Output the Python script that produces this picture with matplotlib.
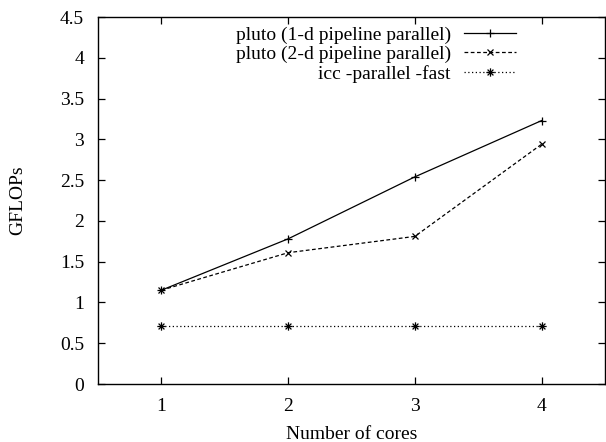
import matplotlib
matplotlib.use('Agg')
import matplotlib.pyplot as plt
from matplotlib.path import Path

cores = [1, 2, 3, 4]
pluto_1d = [1.15, 1.78, 2.54, 3.23]
pluto_2d = [1.15, 1.61, 1.81, 2.94]
icc = [0.71, 0.71, 0.71, 0.71]
yticks = [0, 0.5, 1, 1.5, 2, 2.5, 3, 3.5, 4, 4.5]
ytick_labels = ['0', '0.5', '1', '1.5', '2', '2.5', '3', '3.5', '4', '4.5']

plt.rcParams['font.family'] = ['Liberation Serif', 'DejaVu Serif']
plt.rcParams['font.size'] = 14

# gnuplot style "*" point: plus and cross drawn together
star = Path([(-1, 0), (1, 0), (0, -1), (0, 1), (-0.7, -0.7), (0.7, 0.7), (-0.7, 0.7), (0.7, -0.7)],
            [Path.MOVETO, Path.LINETO] * 4)

fig = plt.figure(figsize=(6.06, 4.42), dpi=100)
ax = fig.add_axes([0.1617, 0.1312, 0.8366, 0.8303])

ax.plot(cores, pluto_1d, '-', color='black', lw=0.9, marker='+', ms=6, mew=0.9,
        label='pluto (1-d pipeline parallel)')
ax.plot(cores, pluto_2d, color='black', lw=0.9, ls=(0, (3, 2)), marker='x', ms=5, mew=0.9,
        label='pluto (2-d pipeline parallel)')
ax.plot(cores, icc, color='black', lw=0.9, ls=(0, (1, 2)), marker=star, ms=6, mew=0.9,
        label='icc -parallel -fast')

ax.set_xlim(0.5, 4.5)
ax.set_ylim(0, 4.5)
ax.set_xticks(cores)
ax.set_yticks(yticks)
ax.set_yticklabels(ytick_labels)
ax.tick_params(direction='in', top=True, right=True, length=5, width=0.9, labelsize=14, pad=10)
for s in ax.spines.values():
    s.set_linewidth(1.0)

ax.set_xlabel('Number of cores', labelpad=8)
ax.set_ylabel('GFLOPs', labelpad=24)

leg = ax.legend(loc='upper right', bbox_to_anchor=(0.86, 1.023), frameon=False, markerfirst=False,
                alignment='right', handlelength=2.7, handletextpad=0.67, labelspacing=0.1,
                fontsize=14)
for t in leg.get_texts():
    t.set_ha('right')

fig.savefig('out.png', dpi=100)
